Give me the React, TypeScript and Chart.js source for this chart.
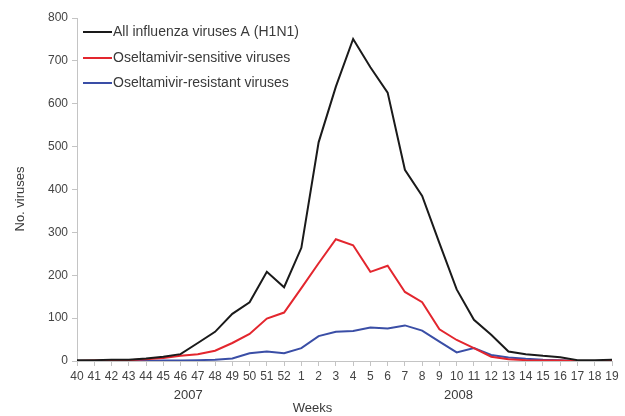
import React, { useEffect, useRef } from "react";
import { Chart, registerables } from "chart.js";

Chart.register(...registerables);

const weeks = [
  "40", "41", "42", "43", "44", "45", "46", "47", "48", "49", "50", "51", "52",
  "1", "2", "3", "4", "5", "6", "7", "8", "9", "10", "11", "12", "13", "14", "15", "16", "17", "18", "19",
];

const allH1N1 = [2, 2, 3, 3, 6, 10, 16, 42, 68, 110, 137, 208, 172, 264, 510, 640, 751, 685, 626, 446, 385, 275, 167, 96, 61, 22, 16, 12, 9, 2, 2, 3];
const sensitive = [0, 1, 1, 2, 4, 7, 12, 16, 24, 42, 63, 99, 113, 170, 228, 284, 270, 208, 222, 161, 137, 74, 49, 30, 10, 4, 2, 1, 1, 0, 0, 0];
const resistant = [0, 0, 0, 0, 0, 1, 1, 2, 3, 6, 18, 22, 18, 30, 58, 68, 70, 78, 76, 83, 71, 45, 20, 30, 14, 8, 5, 3, 2, 0, 0, 0];

const seriesLabels = ["All influenza viruses A (H1N1)", "Oseltamivir-sensitive viruses", "Oseltamivir-resistant viruses"];
const seriesColors = ["#1a1a1a", "#e3262e", "#3a4ea6"];
const yearLabels = ["2007", "2008"];

const FONT = '"Liberation Sans", Arial, sans-serif';
const TEXT = "#3a3a3a";

const overlay = {
  id: "overlay",
  afterDraw(chart: any) {
    const ctx = chart.ctx;
    const xs = chart.scales.x;
    const area = chart.chartArea;
    ctx.save();
    ctx.fillStyle = TEXT;
    ctx.textBaseline = "middle";
    ctx.textAlign = "center";
    ctx.font = `13px ${FONT}`;
    const p = (i: number) => xs.getPixelForValue(i);
    const x2007 = p(6) + 0.45 * (p(7) - p(6));
    const x2008 = p(22) + 0.1 * (p(23) - p(22));
    ctx.fillText(yearLabels[0], x2007, 395);
    ctx.fillText(yearLabels[1], x2008, 395);
    ctx.fillText("Weeks", p(13) + 0.65 * (p(14) - p(13)), 408);
    ctx.save();
    ctx.translate(20, 199);
    ctx.rotate(-Math.PI / 2);
    ctx.fillText("No. viruses", 0, 0);
    ctx.restore();
    ctx.textAlign = "left";
    ctx.font = `14px ${FONT}`;
    const rows = [32, 58, 83];
    chart.data.datasets.forEach((ds: any, i: number) => {
      const y = rows[i];
      ctx.strokeStyle = ds.borderColor;
      ctx.lineWidth = 2;
      ctx.beginPath();
      ctx.moveTo(area.left + 6, y);
      ctx.lineTo(area.left + 35, y);
      ctx.stroke();
      ctx.fillStyle = TEXT;
      ctx.fillText(ds.label, area.left + 36, y);
    });
    ctx.restore();
  },
};

export default function App() {
  const ref = useRef<HTMLCanvasElement>(null);
  useEffect(() => {
    document.body.style.margin = "0";
    const data = [allH1N1, sensitive, resistant];
    const chart = new Chart(ref.current as HTMLCanvasElement, {
      type: "line",
      data: {
        labels: weeks,
        datasets: data.map((d, i) => ({
          label: seriesLabels[i],
          data: d,
          borderColor: seriesColors[i],
          backgroundColor: seriesColors[i],
          borderWidth: 2,
          pointRadius: 0,
          tension: 0,
        })),
      },
      options: {
        animation: false,
        responsive: false,
        maintainAspectRatio: false,
        layout: { padding: { top: 18, right: 13, left: 0, bottom: 0 } },
        plugins: { legend: { display: false }, tooltip: { enabled: false } },
        scales: {
          x: {
            type: "category",
            offset: false,
            afterFit(s: any) {
              s.height = 55;
            },
            grid: { display: true, drawOnChartArea: false, drawTicks: true, tickLength: 5, color: "#c4c4c4" },
            border: { color: "#c4c4c4" },
            ticks: {
              autoSkip: false,
              maxRotation: 0,
              minRotation: 0,
              padding: 3,
              color: "#444",
              font: { family: FONT, size: 12 },
            },
          },
          y: {
            min: 0,
            max: 800,
            afterFit(s: any) {
              s.width = 77;
            },
            grid: { display: true, drawOnChartArea: false, drawTicks: true, tickLength: 5, color: "#c4c4c4" },
            border: { color: "#c4c4c4" },
            ticks: {
              stepSize: 100,
              padding: 4,
              color: "#444",
              font: { family: FONT, size: 12 },
            },
          },
        },
      },
      plugins: [overlay],
    });
    return () => chart.destroy();
  }, []);
  return (
    <div style={{ width: 625, height: 416, background: "#fff" }}>
      <canvas ref={ref} width={625} height={416} style={{ width: 625, height: 416, display: "block" }} />
    </div>
  );
}
